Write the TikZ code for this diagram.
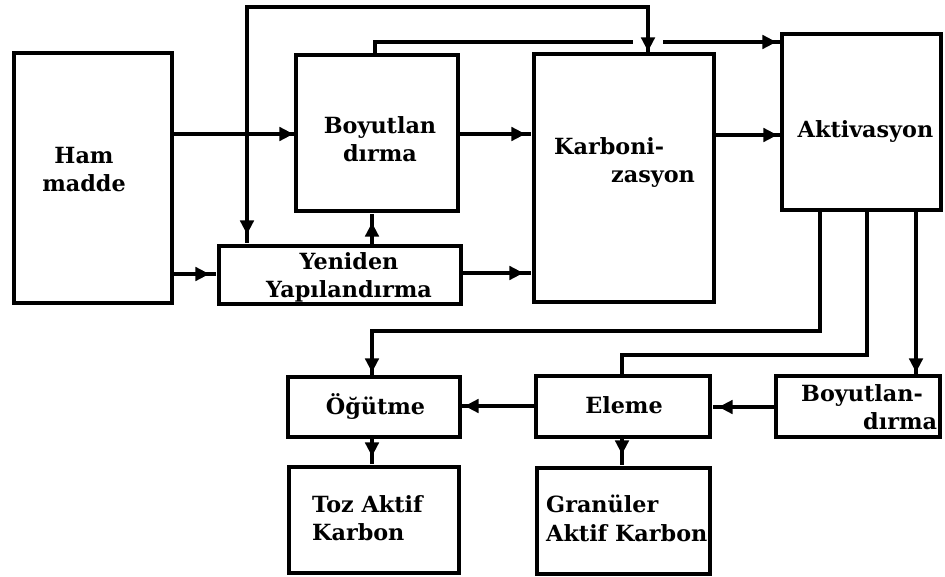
\documentclass[tikz,border=0pt]{standalone}
\usepackage{fontspec}
\setmainfont{DejaVu Serif}
\usetikzlibrary{arrows.meta}
\begin{document}
\begin{tikzpicture}[x=1pt,y=-1pt,
  box/.style={draw, line width=3.2pt, inner sep=0pt},
  lbl/.style={font=\fontsize{22.3}{28.5}\selectfont\bfseries, inner sep=0pt},
  ln/.style={line width=3.2pt},
  arr/.style={ln, -{Triangle[length=14pt,width=13.5pt]Rectangle[length=#1,width=3.2pt]}},
  arr/.default=1pt
]
\useasboundingbox (0,0) rectangle (945,577);
% boxes
\node[box, minimum width=158pt, minimum height=250pt] (ham)   at (93,178) {};
\node[box, minimum width=162pt, minimum height=156pt] (boy1)  at (377,133) {};
\node[box, minimum width=242pt, minimum height=58pt]  (yen)   at (340,275) {};
\node[box, minimum width=180pt, minimum height=248pt] (karb)  at (624,178) {};
\node[box, minimum width=159pt, minimum height=176pt] (akt)   at (861.5,122) {};
\node[box, minimum width=172pt, minimum height=60pt]  (ogut)  at (374,407) {};
\node[box, minimum width=174pt, minimum height=61pt]  (eleme) at (623,406.5) {};
\node[box, minimum width=164pt, minimum height=61pt]  (boy2)  at (858,406.5) {};
\node[box, minimum width=170pt, minimum height=106pt] (toz)   at (374,520) {};
\node[box, minimum width=173pt, minimum height=106pt] (gran)  at (623.5,521) {};
% labels
\node[lbl, align=center, anchor=north] (tham) at (84,147) {Ham\\madde};
\node[lbl, align=center, anchor=north] (tboy1) at (380,116) {Boyutlan\\dırma};
\node[lbl, align=center, anchor=north] (tyen) at (349,252) {Yeniden\\Yapılandırma};
\node[lbl, align=left, anchor=north west] (tkarb) at (554,137) {Karboni-\\\hspace*{57pt}zasyon};
\node[lbl, anchor=base] (takt) at (865.5,138) {Aktivasyon};
\node[lbl, anchor=base] (togut) at (375.5,414) {Öğütme};
\node[lbl, anchor=base] (telem) at (624,413) {Eleme};
\node[lbl, align=left, anchor=north west] (tboy2) at (801,384) {Boyutlan-\\\hspace*{62pt}dırma};
\node[lbl, align=left, anchor=north west] (ttoz) at (312,495) {Toz Aktif\\Karbon};
\node[lbl, align=left, anchor=north west] (tgran) at (546,495) {Granüler\\Aktif Karbon};
% helper coordinates
\coordinate (L134) at (0,134);
\coordinate (L274) at (0,274);
\coordinate (L273) at (0,273);
\coordinate (L135) at (0,135);
\coordinate (L407) at (0,407);
\coordinate (L406) at (0,406);
\coordinate (T1) at (247,7);
\coordinate (T2) at (648,7);
\coordinate (X372) at (372,0);
\coordinate (B1) at (375,42);
\coordinate (G1) at (633,42);
\coordinate (G2) at (663,42);
\coordinate (A1) at (820,331);
\coordinate (O1) at (372,331);
\coordinate (A2) at (867,355);
\coordinate (E1) at (622,355);
\coordinate (A3) at (916,0);
% connectors
\draw[arr] (ham.east |- L134) -- (boy1.west |- L134);
\draw[arr=8pt] (ham.east |- L274) -- (yen.west |- L274);
\draw[arr] (T1) -- (T2) -- (karb.north -| T2);
\draw[arr=10pt, line cap=rect] (T1) -- (yen.north -| T1);
\draw[arr=10pt] (yen.north -| X372) -- (boy1.south -| X372);
\draw[arr=7pt] (boy1.east |- L134) -- (karb.west |- L134);
\draw[arr=9pt] (yen.east |- L273) -- (karb.west |- L273);
\draw[arr=3pt] (karb.east |- L135) -- (akt.west |- L135);
\draw[ln] (boy1.north -| B1) -- (B1) -- (G1);
\draw[arr=4pt] (G2) -- (akt.west |- G2);
\draw[arr=3pt] (akt.south -| A1) -- (A1) -- (O1) -- (ogut.north -| O1);
\draw[ln] (akt.south -| A2) -- (A2) -- (E1) -- (eleme.north -| E1);
\draw[arr=2pt] (akt.south -| A3) -- (boy2.north -| A3);
\draw[arr=7pt] (boy2.west |- L407) -- (eleme.east |- L407);
\draw[arr=3pt] (eleme.west |- L406) -- (ogut.east |- L406);
\draw[arr=9pt] (ogut.south -| O1) -- (toz.north -| O1);
\draw[arr=12pt] (eleme.south -| E1) -- (gran.north -| E1);
\end{tikzpicture}
\end{document}
